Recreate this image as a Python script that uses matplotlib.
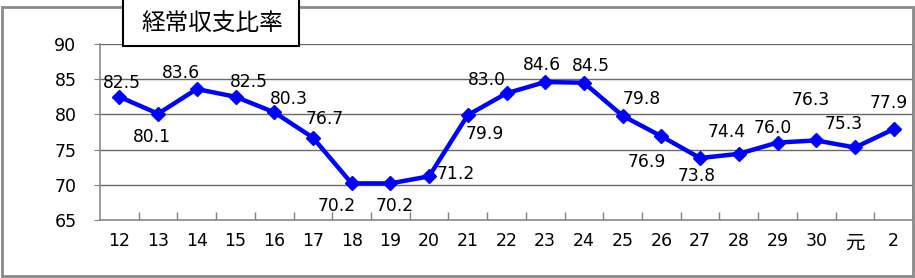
import matplotlib
matplotlib.use("Agg")
import matplotlib.pyplot as plt
from matplotlib.patches import Rectangle

plt.rcParams['font.family'] = ['DejaVu Sans', 'Noto Sans CJK JP']

categories = ["12", "13", "14", "15", "16", "17", "18", "19", "20", "21", "22",
              "23", "24", "25", "26", "27", "28", "29", "30", "元", "2"]
values = [82.5, 80.1, 83.6, 82.5, 80.3, 76.7, 70.2, 70.2, 71.2, 79.9, 83.0,
          84.6, 84.5, 79.8, 76.9, 73.8, 74.4, 76.0, 76.3, 75.3, 77.9]
y_ticks = [65, 70, 75, 80, 85, 90]
title = "経常収支比率"

# label offsets in pixels (dx, dy) relative to each point
label_offsets = [(3, 14), (-6, -23), (-16, 16), (13, 15), (15, 13), (12, 19),
                 (-15, -23), (4, -23), (27, 2), (17, -19), (-20, 13), (-3, 17),
                 (7, 17), (19, 17), (-15, -26), (-3, -18), (-12, 22), (-5, 15),
                 (-5, 40), (-11, 23), (-5, 26)]

W, H = 915, 278
fig = plt.figure(figsize=(W / 100, H / 100), dpi=100)
ax = fig.add_axes([100 / W, (H - 220) / H, (913 - 100) / W, (220 - 44) / H])

x = list(range(len(categories)))
ax.plot(x, values, color='#0000FF', linewidth=3.2, marker='D', markersize=7.5,
        markeredgewidth=1, markeredgecolor='#0000FF', zorder=5, clip_on=False)

for xi, v, (dx, dy) in zip(x, values, label_offsets):
    ax.annotate(f"{v:.1f}", (xi, v), xytext=(dx, dy), textcoords='offset pixels',
                ha='center', va='center', fontsize=12.3, color='black', zorder=6)

ax.set_xlim(-0.5, len(categories) - 0.5)
ax.set_ylim(65, 90)
ax.set_yticks(y_ticks)
ax.set_yticklabels([str(t) for t in y_ticks])
ax.set_xticks(x)
ax.set_xticklabels(categories)
ax.set_xticks([i + 0.5 for i in range(len(categories) - 1)], minor=True)
ax.tick_params(axis='x', which='major', length=0, pad=9, labelsize=12.5)
ax.tick_params(axis='x', which='minor', direction='in', length=6, color='#808080', width=1)
ax.tick_params(axis='y', which='major', direction='out', length=4, color='#808080',
               pad=13, labelsize=12.5)
for lbl in ax.get_xticklabels():
    if lbl.get_text() == "元":
        lbl.set_fontsize(14)
        lbl.set_family(['Noto Sans CJK JP'])
ax.grid(axis='y', color='#6a6a6a', linewidth=1)
ax.set_axisbelow(True)
for s in ['left', 'bottom', 'right']:
    ax.spines[s].set_color('#8a8a8a')
    ax.spines[s].set_linewidth(1.2)
ax.spines['top'].set_visible(False)

# outer border
fig.patches.append(Rectangle((2 / W, 2 / H), (913 - 2) / W, (271 - 2) / H,
                             transform=fig.transFigure, fill=False,
                             edgecolor='#8a8a8a', linewidth=2, zorder=0))
# title box
fig.patches.append(Rectangle((123 / W, (H - 46) / H), (299 - 123) / W, 50 / H,
                             transform=fig.transFigure, facecolor='white',
                             edgecolor='black', linewidth=1.5, zorder=10))
fig.text(212 / W, (H - 23) / H, title, ha='center', va='center', fontsize=17,
         family=['Noto Sans CJK JP'], zorder=11)

fig.savefig('out.png', dpi=100)
